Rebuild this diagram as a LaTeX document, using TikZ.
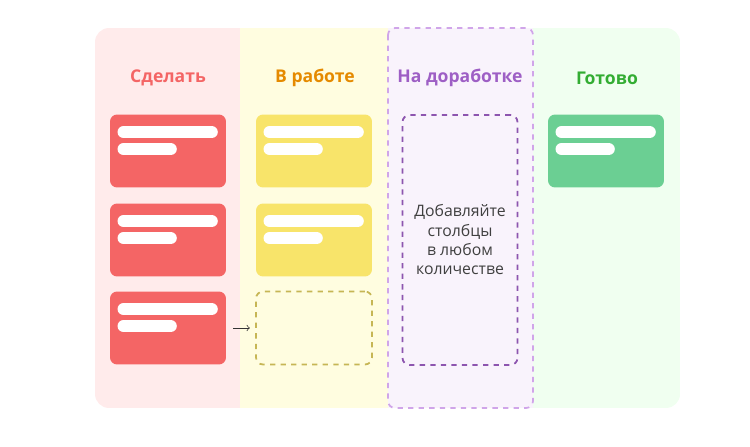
\documentclass[tikz,border=0pt]{standalone}
\usepackage{fontspec}
\setmainfont{Open Sans}
\usetikzlibrary{calc}
\definecolor{todoc}{HTML}{F46565}
\definecolor{workc}{HTML}{F8E46A}
\definecolor{donec}{HTML}{6BCF93}
\definecolor{revc}{HTML}{B06ADB}
\begin{document}
\begin{tikzpicture}[x=0.02cm, y=-0.02cm,
    every node/.style={font=\small},
    head/.style={font=\bfseries\normalsize},
    card/.style={rounded corners=4pt, minimum width=2.32cm, minimum height=1.46cm, inner sep=0pt},
    bar/.style={line width=7pt, white, line cap=round},
    slot/.style={draw, dashed, line width=1pt, rounded corners=4pt}
]
    \useasboundingbox (0,0) rectangle (750,446);
    % board
    \begin{scope}
        \clip[rounded corners=8pt] (95,28) rectangle (680,408);
        \fill[red!8] (95,28) rectangle (240,408);
        \fill[yellow!12] (240,28) rectangle (388,408);
        \fill[revc!8] (388,28) rectangle (533,408);
        \fill[green!6] (533,28) rectangle (680,408);
    \end{scope}
    \draw[slot, revc!60] (388,28) rectangle (533,408);
    % headers
    \node[head, text=todoc] (htodo) at (168,78) {Сделать};
    \node[head, text=orange!80!yellow!90!black] (hwork) at (315,78) {В работе};
    \node[head, text=revc!90!black] (hrev) at (460,78) {На доработке};
    \node[head, text=green!60!black!80] (hdone) at (607,78) {Готово};
    % cards
    \foreach \x/\y/\c/\n in {168/151/todoc/t1, 168/240/todoc/t2, 168/328/todoc/t3,
                             314/151/workc/w1, 314/240/workc/w2, 606/151/donec/d1} {
        \node[card, fill=\c] (\n) at (\x,\y) {};
        \draw[bar] ($(\n.north west)+(14,18)$) -- ++(88,0);
        \draw[bar] ($(\n.north west)+(14,35)$) -- ++(47,0);
    }
    \node[card, slot, draw=workc!80!black] (w3) at (314,328) {};
    \node[slot, draw=revc!80!black, minimum width=2.3cm, minimum height=5cm, align=center,
          font=\small, text=black!75] (add) at (460,240) {Добавляйте\\столбцы\\в любом\\количестве};
    \draw[->, black!80, shorten <=4pt, shorten >=3pt] (t3.east) -- (w3.west);
\end{tikzpicture}
\end{document}
